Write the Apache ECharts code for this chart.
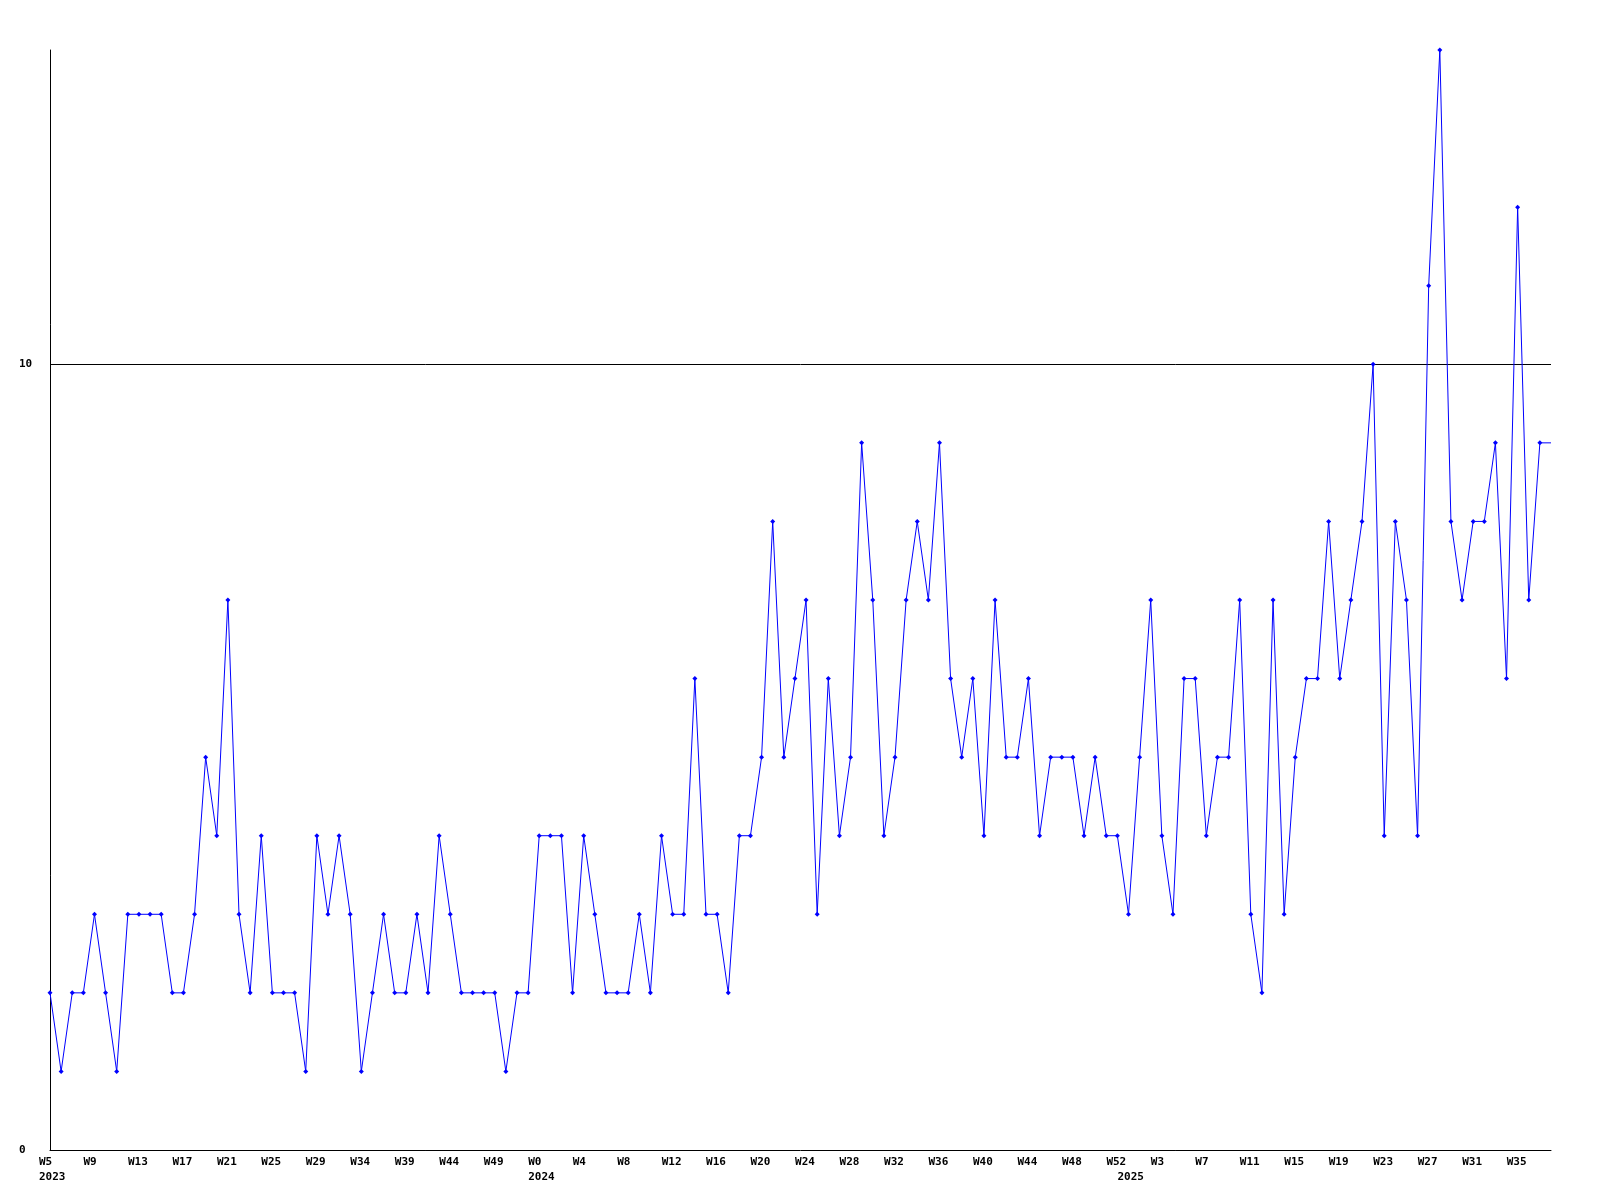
<!DOCTYPE html>
<html>
<head>
<meta charset="utf-8">
<script src="https://cdn.jsdelivr.net/npm/echarts@6/dist/echarts.min.js"></script>
<style>
html,body{margin:0;padding:0;background:#fff;}
#chart{width:1600px;height:1200px;}
</style>
</head>
<body>
<div id="chart"></div>
<script>
// Weekly values (one per point)
const values = [
  2,1,2,2,3,2,1,3,3,3,
  3,2,2,3,5,4,7,3,2,4,
  2,2,2,1,4,3,4,3,1,2,
  3,2,2,3,2,4,3,2,2,2,
  2,1,2,2,4,4,4,2,4,3,
  2,2,2,3,2,4,3,3,6,3,
  3,2,4,4,5,8,5,6,7,3,
  6,4,5,9,7,4,5,7,8,7,
  9,6,5,6,4,7,5,5,6,4,
  5,5,5,4,5,4,4,3,5,7,
  4,3,6,6,4,5,5,7,3,2,
  7,3,5,6,6,8,6,7,8,10,
  4,8,7,4,11,14,8,7,8,8,
  9,6,12,7,9
];
// Week tick labels, one every 4 points
const weekTicks = ['W5','W9','W13','W17','W21','W25','W29','W34','W39','W44','W49',
  'W0','W4','W8','W12','W16','W20','W24','W28','W32','W36','W40','W44','W48','W52',
  'W3','W7','W11','W15','W19','W23','W27','W31','W35'];
const tickStep = 4;
// Year labels and the point index where each appears
const yearLabels = ['2023','2024','2025'];
const yearTickIndex = [0, 44, 97];
// Y-axis
const yMin = 0, yMax = 14, yInterval = 10;

const categories = Array.from({length: values.length + 1}, (_, i) => String(i));
const seriesData = values.slice();
seriesData.push({value: values[values.length - 1], symbol: 'none'});

function isWeekTick(i) {
  return i % tickStep === 0 && i / tickStep < weekTicks.length;
}

const chart = echarts.init(document.getElementById('chart'), null, {renderer: 'canvas'});
const font = {fontFamily: 'DejaVu Sans Mono', fontWeight: 'bold', fontSize: 11, color: '#000'};
chart.setOption({
  animation: false,
  backgroundColor: '#fff',
  grid: {left: 50, right: 49, top: 50, bottom: 50, containLabel: false},
  xAxis: {
    type: 'category',
    data: categories,
    boundaryGap: false,
    axisLine: {show: true, lineStyle: {color: '#000', width: 1}},
    axisTick: {show: false},
    splitLine: {show: false},
    axisLabel: Object.assign({}, font, {
      margin: 5,
      lineHeight: 15,
      align: 'left',
      padding: [0, 0, 0, -11],
      interval: (i) => isWeekTick(i) || yearTickIndex.indexOf(i) >= 0,
      formatter: (v, i) => {
        const w = isWeekTick(i) ? weekTicks[i / tickStep] : '';
        const yi = yearTickIndex.indexOf(i);
        return yi >= 0 ? w + '\n' + yearLabels[yi] : w;
      }
    })
  },
  yAxis: {
    type: 'value',
    min: yMin, max: yMax, interval: yInterval,
    axisLine: {show: true, lineStyle: {color: '#000', width: 1}},
    axisTick: {show: false},
    splitLine: {show: true, showMinLine: false, showMaxLine: false, lineStyle: {color: '#000', width: 1}},
    axisLabel: Object.assign({}, font, {
      align: 'left',
      margin: 31,
      showMaxLabel: false,
      formatter: (v) => (v % yInterval === 0 ? String(v) : '')
    })
  },
  series: [{
    type: 'line',
    data: seriesData,
    symbol: 'diamond',
    symbolSize: 5,
    showAllSymbol: true,
    lineStyle: {color: '#0000ff', width: 1},
    itemStyle: {color: '#0000ff'},
    emphasis: {disabled: true}
  }]
});
</script>
</body>
</html>
